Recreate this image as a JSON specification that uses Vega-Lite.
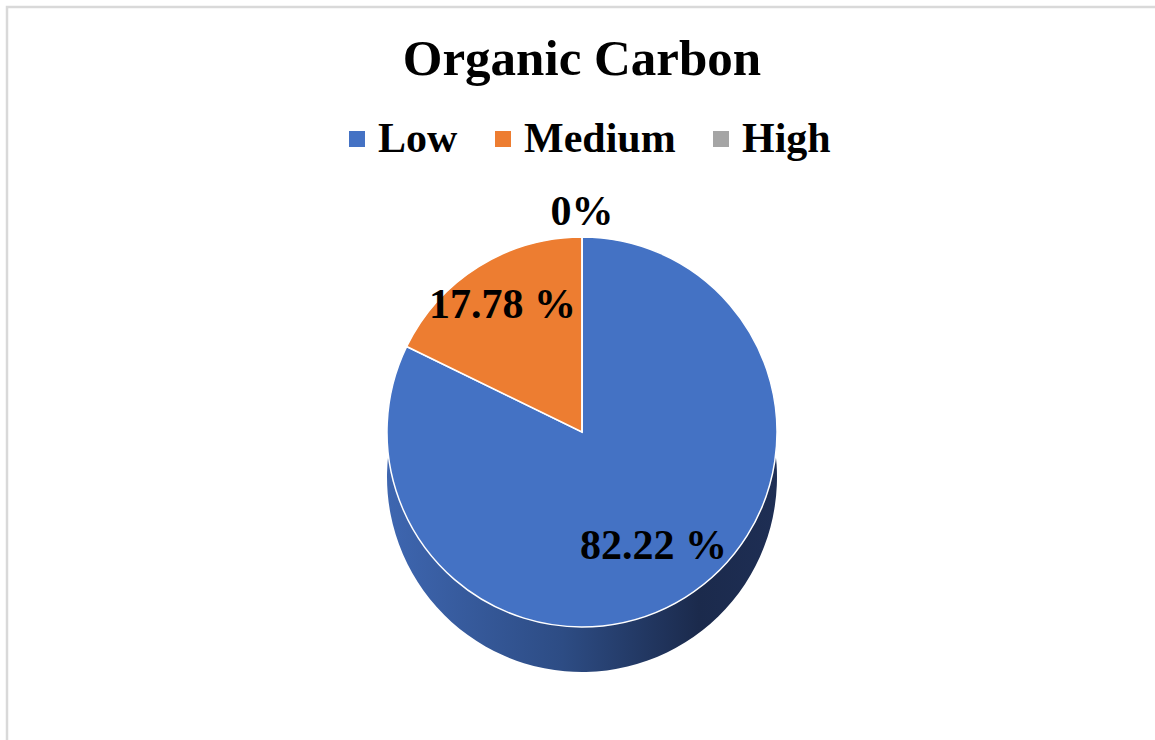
{
  "$schema": "https://vega.github.io/schema/vega-lite/v6.json",
  "autosize": {"type": "none"},
  "padding": {"top": 7, "left": 7, "right": 0, "bottom": 0},
  "width": 1150,
  "height": 850,
  "background": "#ffffff",
  "view": {"stroke": "#d9d9d9", "strokeWidth": 2.5, "fill": "#ffffff"},
  "config": {
    "font": "Liberation Serif"
  },
  "title": {
    "text": "Organic Carbon",
    "orient": "top",
    "anchor": "middle",
    "frame": "group",
    "baseline": "alphabetic",
    "offset": 0,
    "dy": 119,
    "font": "Liberation Serif",
    "fontSize": 51,
    "fontWeight": "bold",
    "color": "#000000"
  },
  "data": {
    "values": [
      {"category": "Low", "value": 82.22, "label": "82.22 %", "order": 1},
      {"category": "Medium", "value": 17.78, "label": "17.78 %", "order": 2},
      {"category": "High", "value": 0, "label": "0%", "order": 3}
    ]
  },
  "encoding": {
    "theta": {"field": "value", "type": "quantitative", "stack": true},
    "order": {"field": "order", "type": "quantitative"}
  },
  "layer": [
    {
      "mark": {
        "type": "arc",
        "radius": 195,
        "yOffset": 45,
        "color": {
          "gradient": "linear",
          "x1": 0, "y1": 0, "x2": 1, "y2": 0,
          "stops": [
            {"offset": 0, "color": "#3e66b0"},
            {"offset": 0.45, "color": "#2d4c84"},
            {"offset": 0.8, "color": "#1b2a4c"},
            {"offset": 1, "color": "#1e2e54"}
          ]
        }
      }
    },
    {
      "mark": {"type": "arc", "radius": 195, "stroke": "#ffffff", "strokeWidth": 1.5},
      "encoding": {
        "color": {
          "field": "category",
          "type": "nominal",
          "scale": {"domain": ["Low", "Medium", "High"], "range": ["#4472C4", "#ED7D31", "#A5A5A5"]},
          "sort": null,
          "legend": {
            "title": null,
            "orient": "none",
            "direction": "horizontal",
            "legendX": 329,
            "legendY": 111,
            "padding": 0,
            "symbolType": "square",
            "symbolSize": 256,
            "symbolStrokeWidth": 0,
            "labelFont": "Liberation Serif",
            "labelFontSize": 42,
            "labelFontWeight": "bold",
            "labelColor": "#000000",
            "labelOffset": 0,
            "labelLimit": 400,
            "columnPadding": 24
          }
        }
      }
    },
    {
      "mark": {"type": "text", "radius": 135, "font": "Liberation Serif", "fontSize": 42, "fontWeight": "bold", "color": "#000000", "baseline": "middle", "align": "center"},
      "encoding": {
        "text": {"condition": {"test": "datum.category === 'Low'", "field": "label"}, "value": ""}
      }
    },
    {
      "mark": {"type": "text", "radius": 150, "font": "Liberation Serif", "fontSize": 42, "fontWeight": "bold", "color": "#000000", "baseline": "middle", "align": "center"},
      "encoding": {
        "text": {"condition": {"test": "datum.category === 'Medium'", "field": "label"}, "value": ""}
      }
    },
    {
      "mark": {"type": "text", "radius": 220, "font": "Liberation Serif", "fontSize": 42, "fontWeight": "bold", "color": "#000000", "baseline": "middle", "align": "center"},
      "encoding": {
        "text": {"condition": {"test": "datum.category === 'High'", "field": "label"}, "value": ""}
      }
    }
  ]
}
